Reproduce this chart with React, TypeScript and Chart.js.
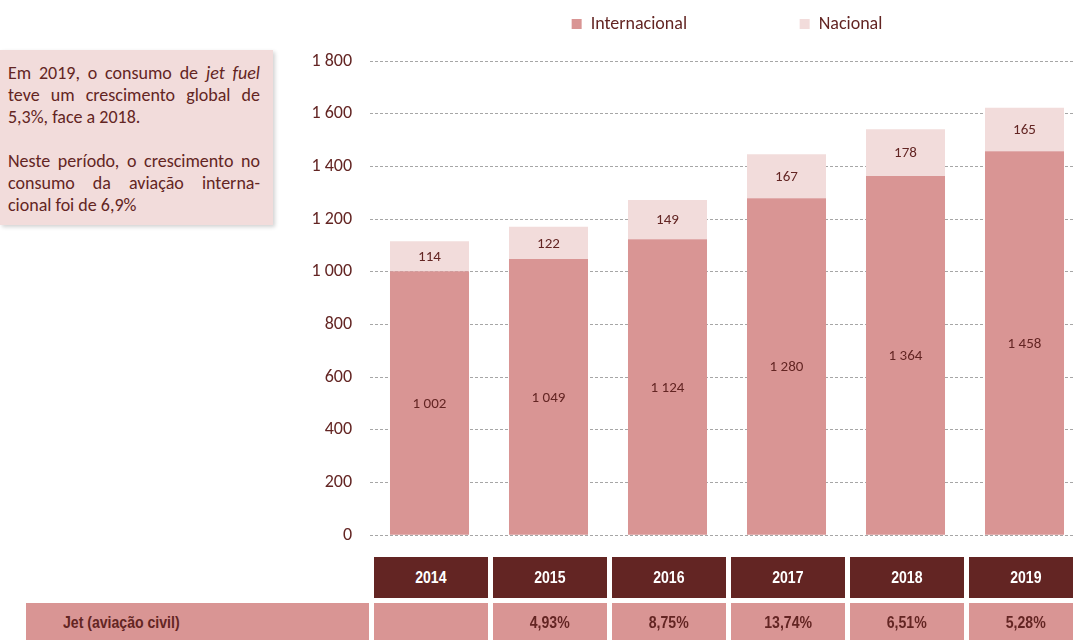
import React, { useEffect, useRef } from "react";
import { Chart, registerables } from "chart.js";

Chart.register(...registerables);

const years = ["2014", "2015", "2016", "2017", "2018", "2019"];
const internacional = [1002, 1049, 1124, 1280, 1364, 1458];
const nacional = [114, 122, 149, 167, 178, 165];
const growthLabel = "Jet (aviação civil)";
const growth = ["", "4,93%", "8,75%", "13,74%", "6,51%", "5,28%"];
const yMax = 1800;
const yStep = 200;

const TEXT = "#632523";
const FONT = "Carlito, Lato, 'Open Sans', sans-serif";
const NARROW = "'Liberation Sans Narrow', 'Arial Narrow', 'Liberation Sans', Arial, sans-serif";

const fmt = (n: number) => String(n).replace(/\B(?=(\d{3})+(?!\d))/g, " ");

const labelPlugin = {
  id: "barLabels",
  afterDatasetsDraw(chart: any) {
    const ctx = chart.ctx;
    ctx.save();
    ctx.font = `15px ${FONT}`;
    ctx.fillStyle = TEXT;
    ctx.textAlign = "center";
    ctx.textBaseline = "middle";
    chart.data.datasets.forEach((ds: any, di: number) => {
      const meta = chart.getDatasetMeta(di);
      meta.data.forEach((bar: any, i: number) => {
        const v = ds.data[i];
        ctx.fillText(fmt(v), bar.x, (bar.y + bar.base) / 2 + 1);
      });
    });
    ctx.restore();
  },
};

const Narrow = ({ children }: { children: any }) => (
  <span style={{ display: "inline-block", transform: "scaleX(0.88)", transformOrigin: "left center", whiteSpace: "nowrap" }}>
    {children}
  </span>
);

export default function App() {
  const ref = useRef<HTMLCanvasElement | null>(null);
  useEffect(() => {
    if (!ref.current) return;
    const chart = new Chart(ref.current, {
      type: "bar",
      data: {
        labels: years,
        datasets: [
          {
            label: "Internacional" + "\u2003".repeat(5) + "\u2002\u2009",
            data: internacional,
            backgroundColor: "#d99594",
            borderWidth: 0,
            barPercentage: 0.664,
            categoryPercentage: 1,
          },
          {
            label: "Nacional",
            data: nacional,
            backgroundColor: "#f2dcdb",
            borderWidth: 0,
            barPercentage: 0.664,
            categoryPercentage: 1,
          },
        ],
      },
      options: {
        responsive: false,
        animation: false,
        devicePixelRatio: 1,
        layout: { padding: { top: 5, bottom: 16, left: 0, right: 0 } },
        plugins: {
          legend: {
            display: true,
            position: "top",
            fullSize: false,
            labels: {
              boxWidth: 10,
              boxHeight: 10,
              padding: 10,
              color: TEXT,
              font: { size: 18, family: FONT },
            },
          },
          subtitle: {
            display: true,
            text: " ",
            weight: 500,
            font: { size: 1 },
            padding: { top: 0, bottom: 17 },
          } as any,
          tooltip: { enabled: false },
        },
        scales: {
          x: { display: false, stacked: true },
          y: {
            stacked: true,
            min: 0,
            max: yMax,
            ticks: {
              stepSize: yStep,
              color: TEXT,
              font: { size: 18, family: FONT },
              padding: 18,
              callback: (v: any) => fmt(Number(v)),
            },
            grid: { color: "#a6a6a6", drawTicks: false, lineWidth: 1 },
            border: { display: false, dash: [3, 2] },
            afterFit: (scale: any) => {
              scale.width = 80;
            },
          },
        },
      },
      plugins: [labelPlugin],
    });
    return () => chart.destroy();
  }, []);

  const colLeft = (i: number) => 374 + i * 119;

  const cellBase: any = {
    position: "absolute",
    fontFamily: NARROW,
    fontWeight: "bold",
    fontSize: 16,
    display: "flex",
    alignItems: "center",
    justifyContent: "center",
  };

  return (
    <div
      style={{
        position: "fixed",
        left: 0,
        top: 0,
        width: 1073,
        height: 640,
        overflow: "hidden",
        background: "#fff",
      }}
    >
      <div
        style={{
          position: "absolute",
          left: 0,
          top: 50,
          width: 273,
          height: 175,
          background: "#f2dcdb",
          boxShadow: "2px 2px 4px rgba(0,0,0,0.18)",
          boxSizing: "border-box",
          padding: "12px 13px 0 8px",
          color: TEXT,
          fontFamily: FONT,
          fontSize: 18,
          lineHeight: "22px",
        }}
      >
        <div style={{ textAlign: "justify", textAlignLast: "justify" }}>
          Em 2019, o consumo de <i>jet fuel</i>
        </div>
        <div style={{ textAlign: "justify", textAlignLast: "justify" }}>
          teve um crescimento global de
        </div>
        <div>5,3%, face a 2018.</div>
        <div style={{ height: 22 }} />
        <div style={{ textAlign: "justify", textAlignLast: "justify" }}>
          Neste período, o crescimento no
        </div>
        <div style={{ textAlign: "justify", textAlignLast: "justify" }}>
          consumo da aviação interna-
        </div>
        <div>cional foi de 6,9%</div>
      </div>

      <canvas
        ref={ref}
        width={794}
        height={564}
        style={{ position: "absolute", left: 290, top: 0, width: 794, height: 564 }}
      />

      {years.map((y, i) => (
        <div
          key={"h" + y}
          style={{
            ...cellBase,
            left: colLeft(i),
            top: 557,
            width: 114,
            height: 41,
            background: "#632523",
            color: "#fff",
          }}
        >
          <span style={{ display: "inline-block", transform: "scaleX(0.88)" }}>{y}</span>
        </div>
      ))}
      <div
        style={{
          ...cellBase,
          left: 26,
          top: 603,
          width: 343,
          height: 40,
          background: "#d99594",
          color: TEXT,
          justifyContent: "flex-start",
          paddingLeft: 37,
          boxSizing: "border-box",
        }}
      >
        <Narrow>{growthLabel}</Narrow>
      </div>
      {growth.map((g, i) => (
        <div
          key={"g" + i}
          style={{
            ...cellBase,
            left: colLeft(i),
            top: 603,
            width: 114,
            height: 40,
            background: "#d99594",
            color: TEXT,
          }}
        >
          <span style={{ display: "inline-block", transform: "scaleX(0.88)" }}>{g}</span>
        </div>
      ))}
    </div>
  );
}
